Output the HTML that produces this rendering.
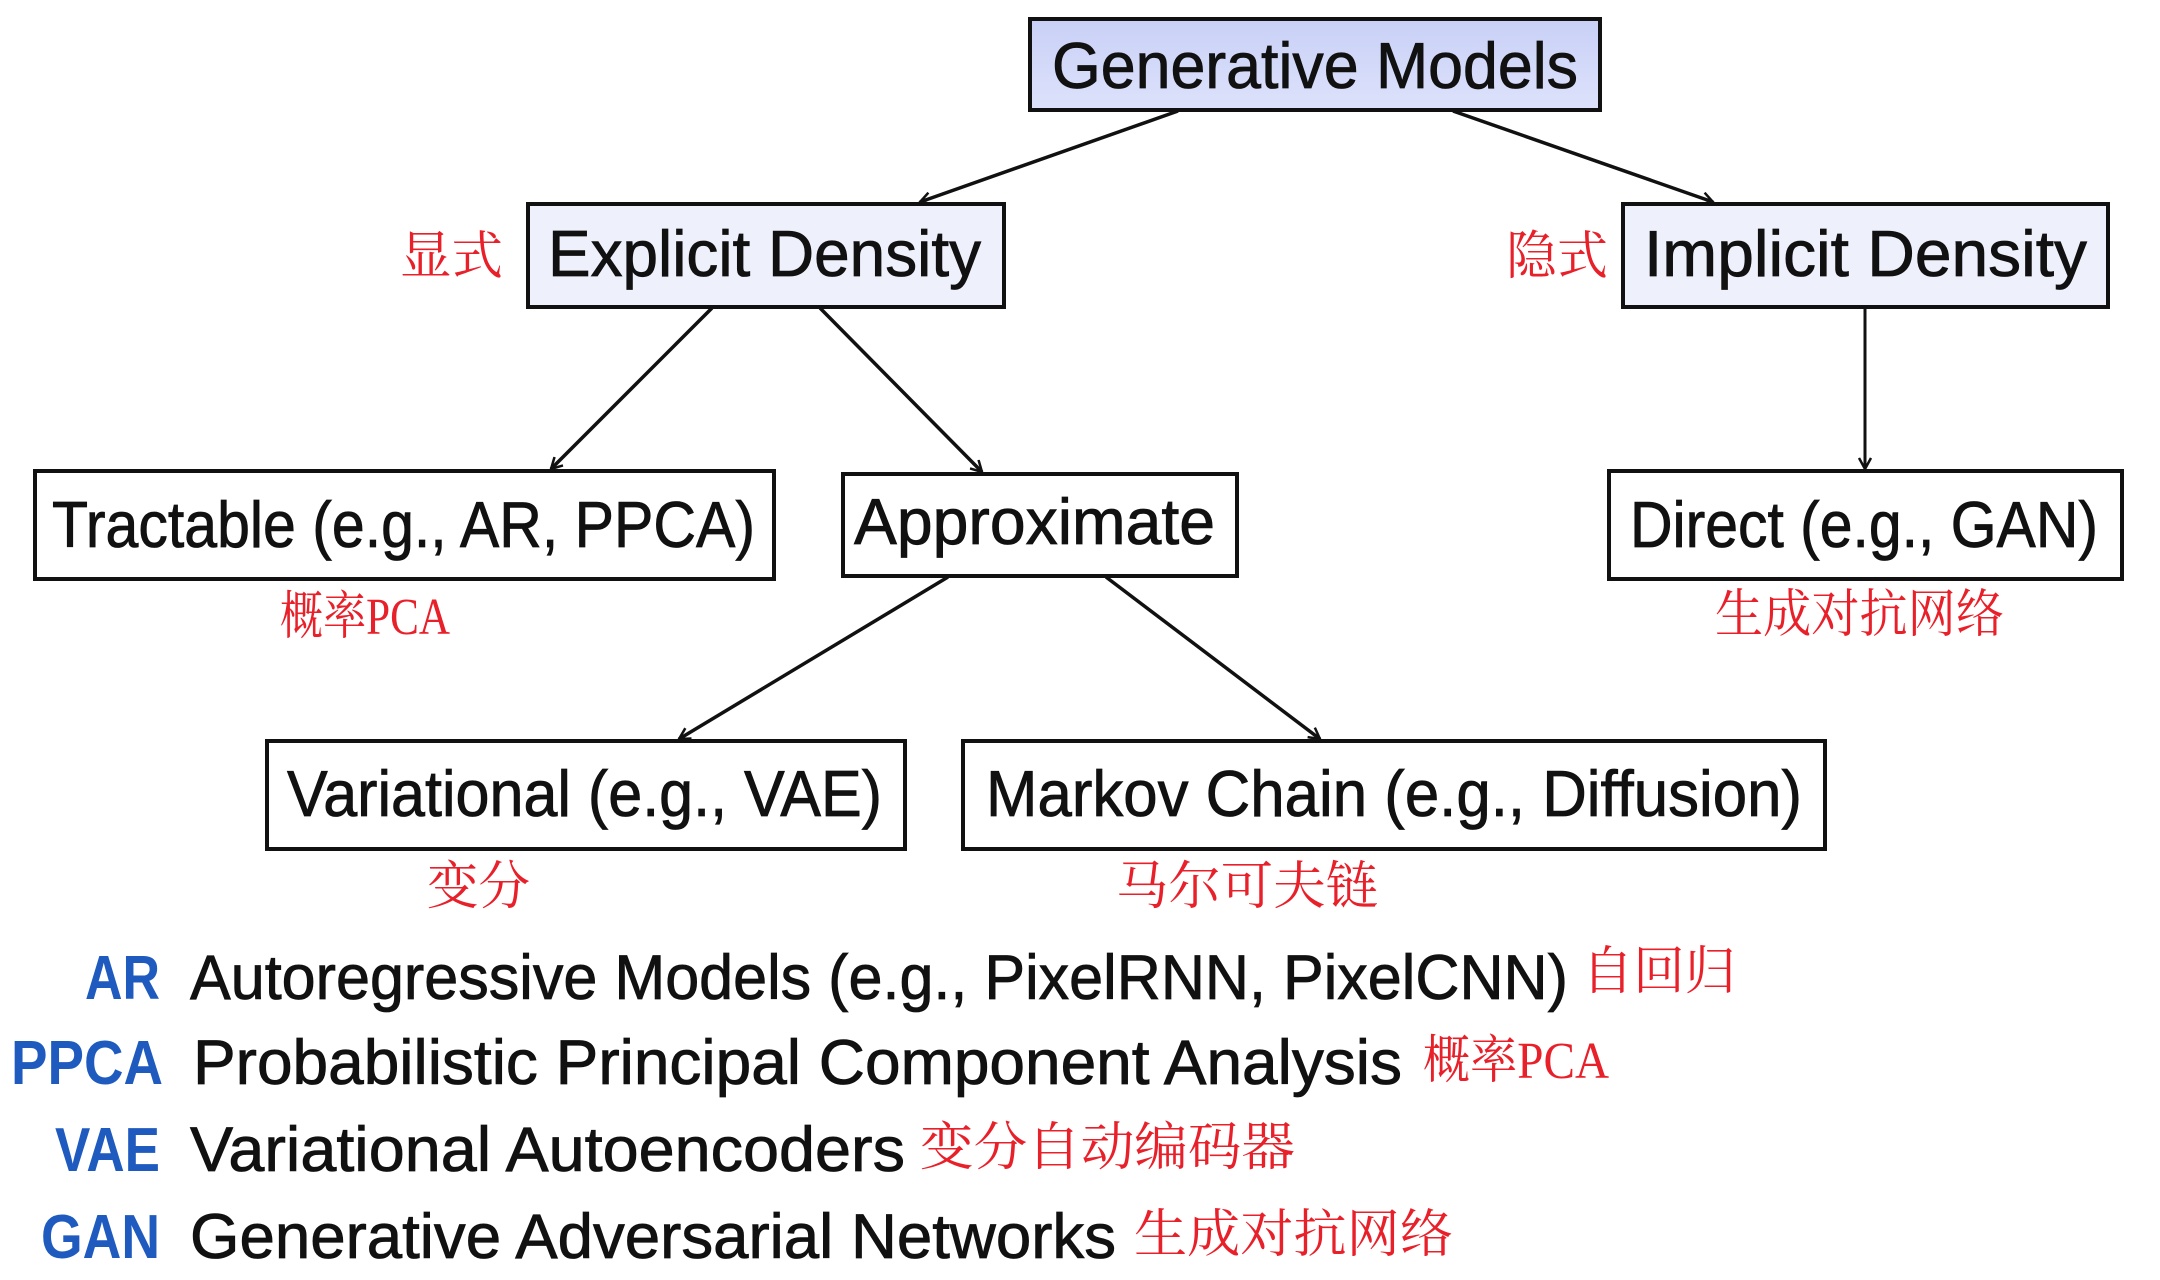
<!DOCTYPE html>
<html><head><meta charset="utf-8"><style>
html,body{margin:0;padding:0;background:#fff;}
svg{display:block;}
.n{font-family:"Liberation Sans",sans-serif;font-size:65px;fill:#111;stroke:#111;stroke-width:0.8;}
.c{font-family:"Liberation Serif","Noto Serif CJK SC",serif;font-size:52px;fill:#e8202a;}
.a{font-family:"Liberation Sans",sans-serif;font-size:62px;font-weight:bold;fill:#1f5bbf;}
.d{font-family:"Liberation Sans",sans-serif;font-size:63px;fill:#111;stroke:#111;stroke-width:0.8;}
</style></head><body>
<svg width="2160" height="1280" viewBox="0 0 2160 1280" xmlns="http://www.w3.org/2000/svg">
<defs>
<linearGradient id="g1" x1="0" y1="0" x2="0" y2="1"><stop offset="0" stop-color="#c8d0f6"/><stop offset="1" stop-color="#dde2fb"/></linearGradient>
<marker id="ar" markerWidth="14" markerHeight="14" refX="12" refY="7" orient="auto" markerUnits="userSpaceOnUse">
<path d="M1,1 L12,7 L1,13" fill="none" stroke="#111" stroke-width="2.5"/></marker>
</defs>
<g stroke="#111" stroke-width="3.5" fill="none" marker-end="url(#ar)">
<line x1="1178" y1="111" x2="920" y2="202"/>
<line x1="1453" y1="111" x2="1713" y2="202"/>
<line x1="712" y1="308" x2="551" y2="469"/>
<line x1="820" y1="308" x2="982" y2="472"/>
<line x1="1865" y1="308" x2="1865" y2="469" stroke-width="3"/>
<line x1="948" y1="577" x2="679" y2="739"/>
<line x1="1106" y1="577" x2="1320" y2="739"/>
</g>
<g stroke="#111" stroke-width="4">
<rect x="1030" y="19" width="570" height="91" fill="url(#g1)"/>
<rect x="528" y="204" width="476" height="103" fill="#eef0fc"/>
<rect x="1623" y="204" width="485" height="103" fill="#eef0fc"/>
<rect x="35" y="471" width="739" height="108" fill="#fff"/>
<rect x="843" y="474" width="394" height="102" fill="#fff"/>
<rect x="1609" y="471" width="513" height="108" fill="#fff"/>
<rect x="267" y="741" width="638" height="108" fill="#fff"/>
<rect x="963" y="741" width="862" height="108" fill="#fff"/>
</g>
<text class="n" x="1052" y="88" textLength="526" lengthAdjust="spacingAndGlyphs">Generative Models</text>
<text class="n" x="548" y="276" textLength="433" lengthAdjust="spacingAndGlyphs">Explicit Density</text>
<text class="n" x="1644" y="276" textLength="443" lengthAdjust="spacingAndGlyphs">Implicit Density</text>
<text class="n" x="52" y="547" textLength="703" lengthAdjust="spacingAndGlyphs">Tractable (e.g., AR, PPCA)</text>
<text class="n" x="854" y="544" textLength="361" lengthAdjust="spacingAndGlyphs">Approximate</text>
<text class="n" x="1630" y="547" textLength="468" lengthAdjust="spacingAndGlyphs">Direct (e.g., GAN)</text>
<text class="n" x="287" y="816" textLength="595" lengthAdjust="spacingAndGlyphs">Variational (e.g., VAE)</text>
<text class="n" x="986" y="816" textLength="816" lengthAdjust="spacingAndGlyphs">Markov Chain (e.g., Diffusion)</text>
<text class="c" x="400" y="274" textLength="103" lengthAdjust="spacingAndGlyphs">显式</text>
<text class="c" x="1506" y="274" textLength="102" lengthAdjust="spacingAndGlyphs">隐式</text>
<text class="c" x="280" y="634" textLength="170" lengthAdjust="spacingAndGlyphs">概率PCA</text>
<text class="c" x="1715" y="632" textLength="289" lengthAdjust="spacingAndGlyphs">生成对抗网络</text>
<text class="c" x="427" y="904" textLength="103" lengthAdjust="spacingAndGlyphs">变分</text>
<text class="c" x="1116" y="904" textLength="262" lengthAdjust="spacingAndGlyphs">马尔可夫链</text>
<text class="a" x="85" y="999" textLength="75" lengthAdjust="spacingAndGlyphs">AR</text>
<text class="d" x="190" y="999" textLength="1378" lengthAdjust="spacingAndGlyphs">Autoregressive Models (e.g., PixelRNN, PixelCNN)</text>
<text class="c" x="1582" y="989" textLength="154" lengthAdjust="spacingAndGlyphs">自回归</text>
<text class="a" x="11" y="1084" textLength="152" lengthAdjust="spacingAndGlyphs">PPCA</text>
<text class="d" x="193" y="1084" textLength="1209" lengthAdjust="spacingAndGlyphs">Probabilistic Principal Component Analysis</text>
<text class="c" x="1423" y="1078" textLength="186" lengthAdjust="spacingAndGlyphs">概率PCA</text>
<text class="a" x="55" y="1171" textLength="105" lengthAdjust="spacingAndGlyphs">VAE</text>
<text class="d" x="190" y="1171" textLength="715" lengthAdjust="spacingAndGlyphs">Variational Autoencoders</text>
<text class="c" x="920" y="1165" textLength="375" lengthAdjust="spacingAndGlyphs">变分自动编码器</text>
<text class="a" x="41" y="1258" textLength="119" lengthAdjust="spacingAndGlyphs">GAN</text>
<text class="d" x="190" y="1258" textLength="926" lengthAdjust="spacingAndGlyphs">Generative Adversarial Networks</text>
<text class="c" x="1134" y="1252" textLength="319" lengthAdjust="spacingAndGlyphs">生成对抗网络</text>
</svg>
</body></html>
